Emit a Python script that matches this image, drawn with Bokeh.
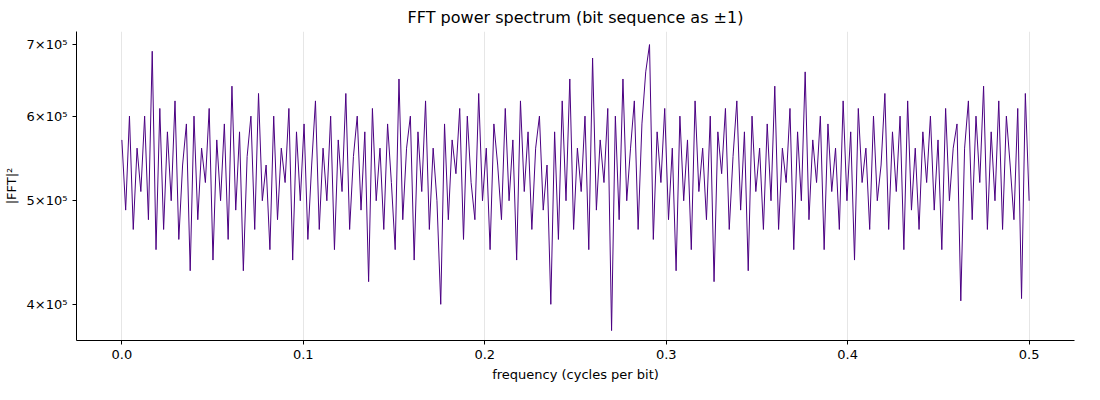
from bokeh.plotting import figure
from bokeh.models import FixedTicker, Range1d
from bokeh.embed import file_html
from bokeh.resources import INLINE

power_k = [
570,490,600,470,560,510,600,480,690,450,
610,470,580,500,620,460,540,590,430,600,
480,560,520,610,440,570,500,590,460,640,
490,580,430,550,600,470,630,500,540,450,
600,480,560,520,610,440,580,500,590,460,
540,620,470,560,500,600,450,570,510,630,
470,550,600,490,580,420,610,500,560,470,
590,520,450,650,480,560,600,440,580,510,
620,470,560,500,400,590,480,570,530,610,
460,600,520,480,630,500,560,450,590,540,
480,610,500,570,440,620,510,580,470,560,
600,490,540,400,580,460,620,500,650,470,
560,510,600,450,680,490,570,520,610,378,
600,480,650,500,560,620,470,590,660,700,
460,580,520,610,480,560,430,600,500,570,
450,620,510,560,480,600,420,580,530,610,
470,550,620,490,580,430,600,510,560,470,
590,500,640,470,560,520,610,450,580,500,
660,480,570,520,600,450,590,510,560,470,
620,500,580,440,610,520,560,470,600,500,
540,630,470,580,510,600,450,620,490,560,
470,580,520,600,490,570,450,610,500,560,
590,403,560,620,480,600,520,640,470,580,
500,620,470,600,540,480,610,405,630,500]
n = len(power_k)
freq = [0.5 * i / (n - 1) for i in range(n)]
power = [v * 1000 for v in power_k]
y_ticks = [400000, 500000, 600000, 700000]
y_labels = {400000: "4×10⁵", 500000: "5×10⁵", 600000: "6×10⁵", 700000: "7×10⁵"}
x_ticks = [0.0, 0.1, 0.2, 0.3, 0.4, 0.5]

p = figure(width=1084, height=384, y_axis_type="log", output_backend="svg",
           toolbar_location=None, title="FFT power spectrum (bit sequence as ±1)",
           x_range=Range1d(-0.025, 0.525), y_range=Range1d(370000, 720000))
p.line(freq, power, color="#4b0082", line_width=1)
p.title.align = "center"
p.title.text_font = "DejaVu Sans"
p.title.text_font_size = "16px"
p.title.text_font_style = "normal"
p.title.text_color = "black"
p.xaxis.ticker = FixedTicker(ticks=x_ticks)
p.xaxis.major_label_overrides = {t: f"{t:.1f}" for t in x_ticks}
p.yaxis.ticker = FixedTicker(ticks=y_ticks)
p.yaxis.major_label_overrides = y_labels
p.xaxis.axis_label = "frequency (cycles per bit)"
p.yaxis.axis_label = "|FFT|²"
for ax in (p.xaxis, p.yaxis):
    ax.axis_label_text_font = "DejaVu Sans"
    ax.axis_label_text_font_style = "normal"
    ax.axis_label_text_font_size = "13px"
    ax.axis_label_text_color = "black"
    ax.major_label_text_font = "DejaVu Sans"
    ax.major_label_text_font_size = "13px"
    ax.major_label_text_color = "black"
    ax.minor_tick_line_color = None
    ax.axis_line_color = "black"
    ax.major_tick_line_color = "black"
    ax.major_tick_out = 4
    ax.major_tick_in = 0
p.xgrid.grid_line_color = "#e6e6e6"
p.ygrid.grid_line_color = None
p.outline_line_color = None
p.background_fill_color = "white"
p.min_border_left = 40
p.min_border_right = 10

open("out.html", "w").write(file_html(p, INLINE))
